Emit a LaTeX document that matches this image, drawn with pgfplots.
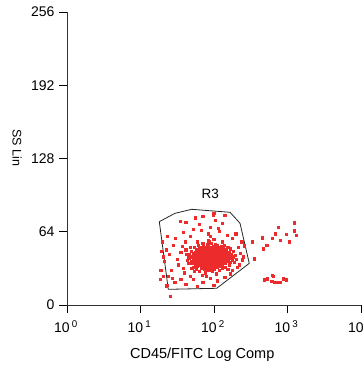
\documentclass[border=0pt]{standalone}
\usepackage{pgfplots}
\usepackage{pgfplotstable}
\pgfplotsset{compat=1.18}
\usepackage{fontspec}
\setmainfont{Liberation Sans}
\definecolor{dotred}{RGB}{236,44,44}

\pgfplotstableread{
lx y
1.82 40
1.85 43
1.88 38
1.91 41
1.94 45
1.97 39
2.00 42
2.03 37
1.86 47
1.89 35
1.93 36
1.96 48
1.99 44
2.02 46
2.05 40
1.84 36
1.87 44
1.90 47
1.92 39
1.95 42
1.98 35
2.01 38
2.04 44
2.07 42
1.80 44
1.83 38
1.79 41
1.81 46
1.78 37
1.76 43
1.88 41
1.90 44
1.92 33
1.95 37
1.97 50
2.00 34
2.06 36
2.08 47
2.10 40
2.12 43
2.09 38
2.11 35
1.74 40
1.72 45
1.77 48
1.75 35
1.86 51
1.89 49
1.93 52
1.99 51
2.03 49
2.06 50
1.83 32
1.87 31
1.91 30
1.96 32
2.01 31
2.04 33
2.13 46
2.15 39
2.14 44
2.16 36
1.70 38
1.71 42
1.69 47
1.68 36
1.73 50
1.79 52
1.85 54
1.94 55
2.02 53
2.10 51
2.18 42
2.20 38
2.17 48
2.19 45
2.22 41
2.21 35
1.66 41
1.67 44
1.64 39
1.80 29
1.88 28
1.98 29
2.07 30
2.12 32
1.76 31
1.72 33
2.24 44
2.25 39
2.23 49
2.27 42
1.82 48
1.84 42
1.86 39
1.88 46
1.90 36
1.92 48
1.94 40
1.96 43
1.98 47
2.00 39
2.02 43
2.04 36
1.81 35
1.83 45
1.85 37
1.87 49
1.89 42
1.91 37
1.93 44
1.95 46
1.97 36
1.99 40
2.01 45
2.03 41
2.05 47
2.07 38
2.09 44
2.11 48
1.78 45
1.80 39
1.77 34
1.75 46
1.73 42
1.71 36
2.13 40
2.15 42
2.17 38
2.19 50
2.21 46
2.14 52
1.90 39
1.93 41
1.96 38
1.99 37
1.87 40
1.84 45
1.89 45
1.95 39
2.00 48
2.05 43
1.92 43
1.97 42
2.02 40
1.86 43
1.91 46
1.94 38
2.08 41
2.06 45
1.83 41
1.79 43
1.81 50
1.77 39
1.91 53
1.97 54
2.04 52
2.09 49
1.68 50
1.70 32
1.74 29
2.16 33
2.19 31
2.26 47
2.28 37
2.29 43
2.31 40
1.63 44
1.65 36
1.62 48
1.88 33
1.95 30
2.03 27
1.84 26
1.92 56
2.00 57
1.78 55
2.12 55
1.85 41
1.88 43
1.91 44
1.94 43
1.97 41
2.00 44
2.03 39
1.86 38
1.89 40
1.92 42
1.95 44
1.98 42
2.01 41
2.04 42
1.82 43
1.80 41
1.87 36
1.90 42
1.93 39
1.96 41
1.99 43
2.02 38
2.05 38
2.08 43
2.10 45
2.12 38
1.84 47
1.88 50
1.93 47
1.98 45
2.03 45
2.07 46
1.76 40
1.78 42
1.81 37
1.83 35
1.86 34
1.90 34
1.94 34
1.99 33
2.04 35
2.08 34
2.11 42
2.14 37
2.17 44
1.74 44
1.72 39
1.80 47
1.85 49
1.90 49
1.95 50
2.01 49
2.06 48
2.13 49
1.95 41
1.92 40
1.89 38
1.86 45
1.97 46
2.01 36
1.83 39
2.09 36
2.06 41
1.84 40
1.87 42
1.90 40
1.93 43
1.96 45
1.99 41
2.02 44
2.05 45
1.81 42
1.78 39
1.75 41
1.88 36
1.91 38
1.94 36
1.97 37
2.00 40
2.03 43
2.06 39
2.09 40
2.11 46
1.86 50
1.92 50
1.98 49
2.04 47
1.79 47
1.73 37
2.15 47
2.18 40
2.20 43
2.23 37
}\core

\pgfplotstableread{
lx y
1.54 73
1.62 72
1.80 70
1.95 68
2.02 74
2.12 71
1.72 66
2.08 64
1.92 62
1.68 60
2.18 61
2.25 58
1.58 63
1.85 77
2.00 80
2.15 78
1.75 76
1.48 58
2.30 62
1.95 60
1.83 65
2.06 67
1.99 78.6
1.30 55
1.35 48
1.40 44
1.45 52
1.50 40
1.52 35
1.42 30
1.38 25
1.55 46
1.58 32
1.60 28
1.33 38
1.28 30
1.47 20
1.55 22
1.62 18
1.36 17
1.44 23
1.57 51
1.61 55
1.27 22
1.31 42
1.72 22
1.85 20
1.95 23
2.05 21
2.15 24
2.22 27
1.78 16
1.68 25
2.00 17
2.25 30
1.90 25
2.33 50
2.36 45
2.38 55
2.35 35
2.40 42
2.32 33
2.88 67.5
3.09 71.6
3.10 64.7
3.125 60.6
2.84 62
2.99 61.4
3.03 55
2.91 56.2
2.80 58
2.72 51.8
2.66 58.5
2.67 48.9
2.52 55
2.41 51.5
2.55 40.2
2.39 39.3
2.80 25.9
2.81 25
2.73 22.7
2.69 21.8
2.79 20.4
2.82 19.5
2.87 19.5
2.90 19.5
2.95 22.7
2.99 21.8
1.31 24.7
1.356 16
1.41 7.2
1.29 46.6
1.37 59.7
}\sparse

\pgfplotstableread{
lx y
1.256 72.8
1.469 80.1
1.697 83.6
2.218 81.0
2.354 71.4
2.480 36.4
2.037 14.6
1.378 13.7
1.256 72.8
}\gate

\begin{document}
\begin{tikzpicture}
\begin{axis}[
  scale only axis,
  width=294pt, height=293pt,
  xmode=log,
  xmin=1, xmax=10000,
  ymin=0, ymax=256,
  axis x line*=bottom,
  axis y line*=left,
  axis line style={black!80, line width=0.6pt},
  tick align=outside,
  major tick length=8pt,
  tick style={black, line width=0.6pt},
  xtick={1,10,100,1000,10000},
  xticklabels={10\,\textsuperscript{0},10\,\textsuperscript{1},10\,\textsuperscript{2},10\,\textsuperscript{3},10\,\textsuperscript{4}},
  xminorticks=false,
  ytick={0,64,128,192,256},
  yticklabels={0,64,128,192,256},
  tick label style={font=\fontsize{14}{16}\selectfont},
  xticklabel style={yshift=-4pt, xshift=-1pt},
  yticklabel style={xshift=-1pt},
  xlabel={CD45/FITC Log Comp},
  ylabel={SS Lin},
  xlabel style={font=\fontsize{14.5}{16}\selectfont, at={(axis description cs:0.46,-0.171)}, anchor=center},
  ylabel style={font=\fontsize{12.5}{14}\selectfont, at={(axis description cs:-0.170,0.536)}, anchor=center, rotate=180},
]
\coordinate (ll) at (rel axis cs:0,0);
\coordinate (ur) at (rel axis cs:1,1);
\addplot[only marks, color=dotred, mark=square*, mark size=1.1pt, mark options={draw=dotred, fill=dotred, line width=0pt}]
  table[x expr={10^(\thisrow{lx})}, y=y] {\core};
\addplot[only marks, color=dotred, mark=square*, mark size=1.1pt, mark options={draw=dotred, fill=dotred, line width=0pt}]
  table[x expr={10^(\thisrow{lx})}, y=y] {\sparse};
\addplot[black!85, line width=0.8pt, no marks] table[x expr={10^(\thisrow{lx})}, y=y] {\gate};
\node[font=\fontsize{13.5}{15}\selectfont] at (axis cs:89,97.5) {R3};
\end{axis}
\pgfresetboundingbox
\path ([shift={(-67pt,-61pt)}]ll) rectangle ([shift={(2pt,12pt)}]ur);
\end{tikzpicture}
\end{document}
